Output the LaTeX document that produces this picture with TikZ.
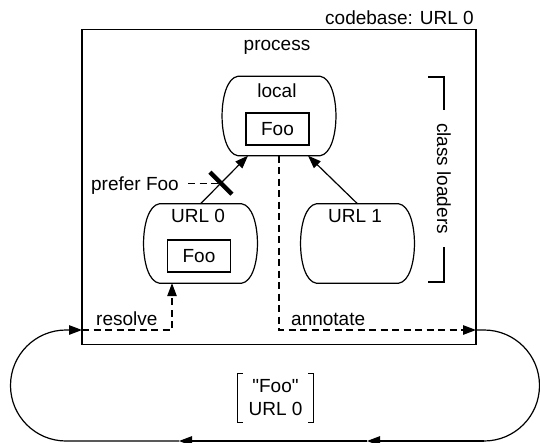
\documentclass[tikz,border=0pt]{standalone}
\usepackage{fontspec}
\setmainfont{Liberation Sans}
\usetikzlibrary{arrows.meta,calc}

\tikzset{
  lbl/.style={font=\fontsize{19pt}{23pt}\selectfont, inner sep=0pt},
  frame/.style={draw, line width=1.6pt, minimum width=394pt, minimum height=315pt, inner sep=0pt},
  slot/.style={minimum width=112pt, minimum height=79pt, inner sep=0pt},
  barrel/.style={line width=1.2pt},
  classbox/.style={draw, line width=1.2pt, minimum width=63pt, minimum height=32pt,
    inner sep=0pt, font=\fontsize{19pt}{23pt}\selectfont},
  tip/.style={-{Triangle[length=13pt,width=9.5pt]}},
  link/.style={line width=1.2pt},
  dashedlink/.style={line width=1.2pt, dash pattern=on 7pt off 4.5pt},
  veto/.style={line width=4.5pt},
}

% barrel outline around an (invisible) node
\newcommand\barrelpath[1]{%
  \draw[barrel] ($(#1.north west)+(15,0)$) -- ($(#1.north east)+(-15,0)$)
    .. controls ($(#1.north east)+(6,3)$) and ($(#1.south east)+(6,-3)$) .. ($(#1.south east)+(-15,0)$)
    -- ($(#1.south west)+(15,0)$)
    .. controls ($(#1.south west)+(-6,-3)$) and ($(#1.north west)+(-6,3)$) .. cycle;}

\begin{document}
\begin{tikzpicture}[x=1pt,y=-1pt]
\useasboundingbox (0,0) rectangle (540,442);

% process frame
\node[lbl, anchor=base east] (codebase) at (474,24) {codebase: URL 0};
\node[frame] (proc) at (279,187) {};
\node[lbl, anchor=base] (ptitle) at (277,50) {process};

% class loaders
\node[slot] (local) at (279,116) {};
\node[slot] (url0) at (200.5,243.5) {};
\node[slot] (url1) at (357.5,243.5) {};
\barrelpath{local}
\barrelpath{url0}
\barrelpath{url1}
\node[lbl, anchor=base] (locallbl) at (277,97) {local};
\node[lbl, anchor=base] (url0lbl) at (198,222) {URL 0};
\node[lbl, anchor=base] (url1lbl) at (355,222) {URL 1};
\node[classbox] (foolocal) at (277.5,129) {Foo};
\node[classbox] (foourl0) at (199,256) {Foo};

% parent delegation
\coordinate (in0) at ($(local.south)+(-31,0)$);
\coordinate (in1) at ($(local.south)+(29,0)$);
\draw[link,tip] (url0.north) -- (in0);
\draw[link,tip] (url1.north) -- (in1);
\path (url0.north) -- (in0) coordinate[pos=0.43] (vx);
\draw[veto] ($(vx)+(-11,-11)$) -- ($(vx)+(11,11)$);
\node[lbl, anchor=base east] (pref) at (179,190) {prefer Foo};
\draw[dashedlink, shorten <=9pt] (pref.east |- vx) -- (vx);

% bracket label
\node[lbl, rotate=-90, inner xsep=13pt] (cl) at (444,178.5) {class loaders};
\coordinate (clt) at (428,77);
\coordinate (clb) at (428,282);
\draw[link] (clt) -| (cl.west);
\draw[link] (clb) -| (cl.east);

% resolve / annotate
\coordinate (rin) at (82,330);
\coordinate (aout) at (476,330);
\coordinate (rtip) at ($(url0.south)+(-28.5,0)$);
\draw[dashedlink,tip] (rin) -| (rtip);
\draw[dashedlink,tip] (local.south) |- (aout);
\node[lbl, anchor=base west] (resolve) at (96,325) {resolve};
\node[lbl, anchor=base west] (annotate) at (291,325) {annotate};

% transport loop
\coordinate (rtop) at (484,330);
\coordinate (rbot) at (484,441);
\coordinate (m1) at (367,441);
\coordinate (m2) at (179,441);
\coordinate (lbot) at (66,441);
\draw[link] (aout) -- (rtop) arc[start angle=-90, end angle=90, radius=55.5];
\draw[link,tip] (rbot) -- (m1);
\draw[link,tip] (m1) -- (m2);
\draw[link,tip] (m2) -- (lbot) arc[start angle=90, end angle=270, radius=55.5] -- (rin);

% annotation tuple
\node[lbl, align=center, minimum width=75pt, minimum height=48pt] (tuple) at (275.5,398) {\textquotedbl Foo\textquotedbl\\URL 0};
\draw[link] ($(tuple.north west)+(5,0)$) -- (tuple.north west) -- (tuple.south west) -- ($(tuple.south west)+(5,0)$);
\draw[link] ($(tuple.north east)+(-5,0)$) -- (tuple.north east) -- (tuple.south east) -- ($(tuple.south east)+(-5,0)$);
\end{tikzpicture}
\end{document}
